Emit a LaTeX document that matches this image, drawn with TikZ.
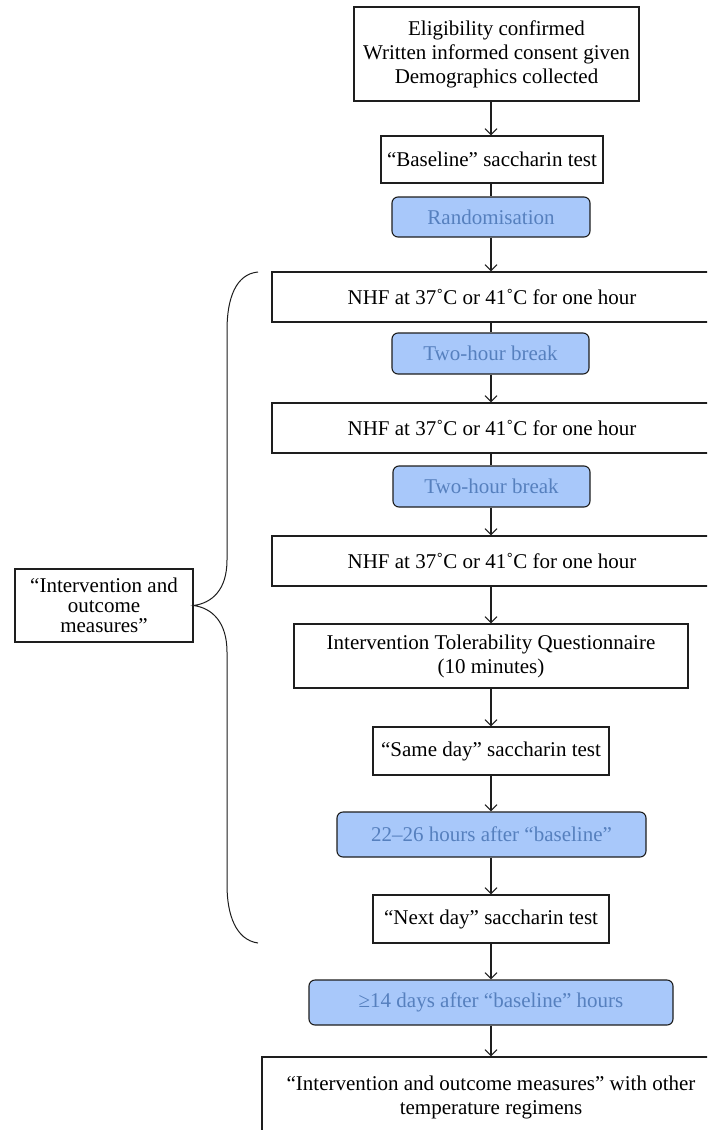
\documentclass[tikz,border=0pt]{standalone}
\usepackage{fontspec}
\setmainfont{Liberation Serif}
\usetikzlibrary{arrows.meta}
\definecolor{bfill}{RGB}{168,200,250}
\definecolor{btext}{RGB}{86,128,190}
\definecolor{edge}{RGB}{30,30,30}
\newcommand{\degr}{\textsuperscript{\fontsize{14}{14}\selectfont o}}
\tikzset{
  box/.style={draw=edge, line width=1.1pt, inner sep=0pt, align=center,
    font=\fontsize{21}{24}\selectfont, text=black},
  bluebox/.style={box, fill=bfill, text=btext, rounded corners=6pt},
  flow/.style={draw=edge, line width=1.1pt},
  arr/.style={flow, -{Straight Barb[length=6pt,width=12pt]}}
}
\begin{document}
\begin{tikzpicture}[x=1pt,y=-1pt]
\path[use as bounding box, clip] (0,0) rectangle (707,1130);
\fill[white] (0,0) rectangle (707,1130);
\coordinate (ax) at (491,0);

\node[box, minimum width=285pt, minimum height=94pt] (top) at (496.5,54)
  {Eligibility confirmed\\Written informed consent given\\Demographics collected};
\node[box, minimum width=222pt, minimum height=47pt] (base) at (492,159.5)
  {“Baseline” saccharin test};
\node[bluebox, minimum width=198pt, minimum height=40pt] (rand) at (491,217)
  {Randomisation};
\node[box, minimum width=440pt, minimum height=50pt] (nhf1) at (492,297)
  {NHF at 37˚C or 41˚C for one hour};
\node[bluebox, minimum width=197pt, minimum height=41pt] (br1) at (490.5,353.5)
  {Two-hour break};
\node[box, minimum width=440pt, minimum height=50pt] (nhf2) at (492,428)
  {NHF at 37˚C or 41˚C for one hour};
\node[bluebox, minimum width=197pt, minimum height=41pt] (br2) at (491.5,486.5)
  {Two-hour break};
\node[box, minimum width=440pt, minimum height=50pt] (nhf3) at (492,561)
  {NHF at 37˚C or 41˚C for one hour};
\node[box, minimum width=394pt, minimum height=64pt] (itq) at (491,656)
  {Intervention Tolerability Questionnaire\\(10 minutes)};
\node[box, minimum width=236pt, minimum height=48pt] (same) at (491,751)
  {“Same day” saccharin test};
\node[bluebox, minimum width=309pt, minimum height=45pt] (d22) at (491.5,834.5)
  {22–26 hours after “baseline”};
\node[box, minimum width=236pt, minimum height=48pt] (next) at (491,919)
  {“Next day” saccharin test};
\node[bluebox, minimum width=364pt, minimum height=45pt] (d14) at (491,1002.5)
  {≥14 days after “baseline” hours};
\node[box, minimum width=458pt, minimum height=80pt] (final) at (491,1097)
  {“Intervention and outcome measures” with other\\temperature regimens};
\node[box, minimum width=178pt, minimum height=73pt,
  font=\fontsize{21}{20}\selectfont] (left) at (104,605.5)
  {“Intervention and\\outcome\\measures”};

\draw[arr] (top.south -| ax) -- (base.north -| ax);
\draw[flow] (base.south -| ax) -- (rand.north -| ax);
\draw[arr] (rand.south -| ax) -- (nhf1.north -| ax);
\draw[flow] (nhf1.south -| ax) -- (br1.north -| ax);
\draw[arr] (br1.south -| ax) -- (nhf2.north -| ax);
\draw[flow] (nhf2.south -| ax) -- (br2.north -| ax);
\draw[arr] (br2.south -| ax) -- (nhf3.north -| ax);
\draw[arr] (nhf3.south -| ax) -- (itq.north -| ax);
\draw[arr] (itq.south -| ax) -- (same.north -| ax);
\draw[arr] (same.south -| ax) -- (d22.north -| ax);
\draw[arr] (d22.south -| ax) -- (next.north -| ax);
\draw[arr] (next.south -| ax) -- (d14.north -| ax);
\draw[arr] (d14.south -| ax) -- (final.north -| ax);

% curly brace
\draw[flow, line width=1pt] (258,272) .. controls (236,274) and (227,298) .. (227,330)
  -- (227,560) .. controls (227,590) and (212,603) .. (left.east)
  .. controls (212,608) and (227,622) .. (227,652)
  -- (227,885) .. controls (227,915) and (236,940) .. (258,943);
\end{tikzpicture}
\end{document}
